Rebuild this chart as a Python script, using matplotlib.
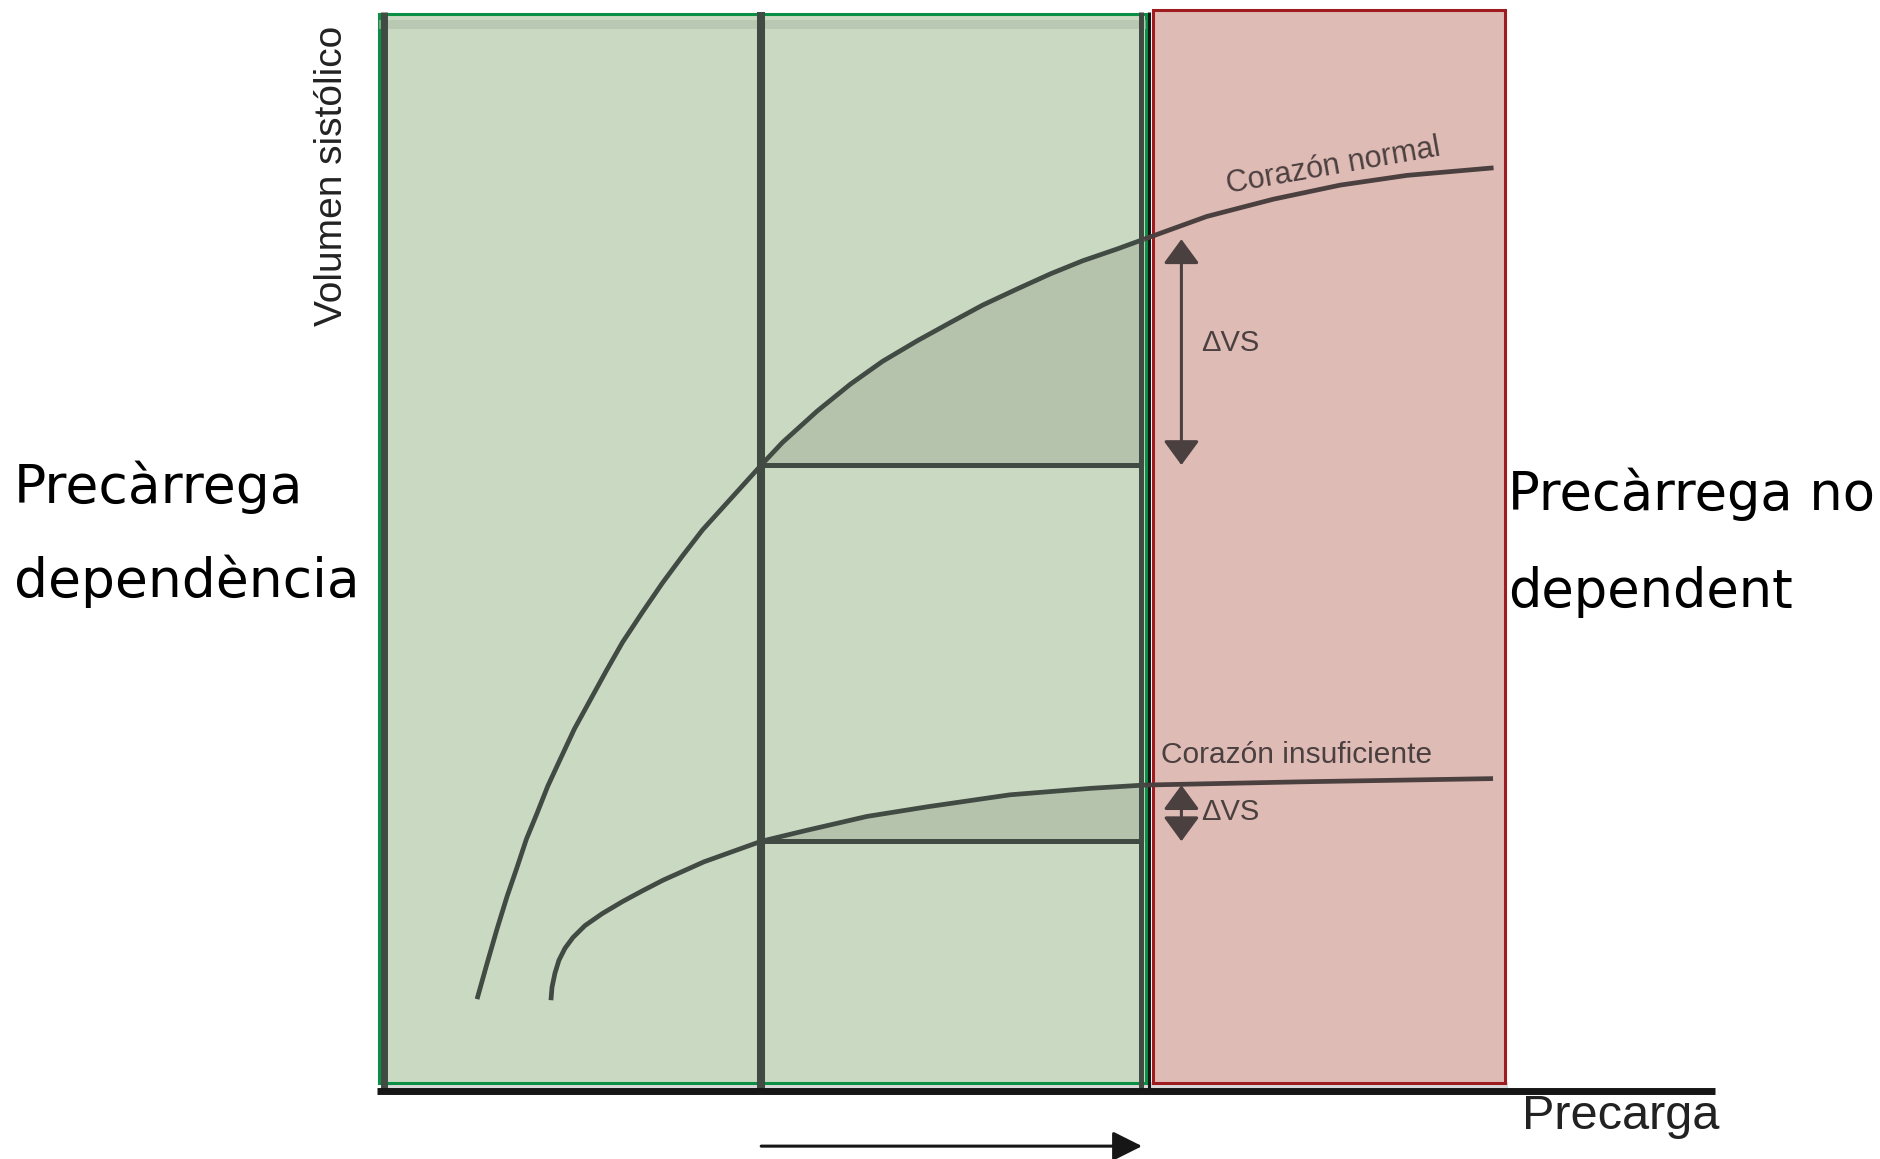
import matplotlib
matplotlib.use('Agg')
import matplotlib.pyplot as plt
from matplotlib.patches import Rectangle, FancyArrowPatch

### Data: Frank-Starling curves (precarga vs volumen sistolico)

# normal heart
precarga_normal = [7.2, 7.95, 8.7, 9.45, 10.2, 10.9, 11.7, 12.5, 13.4, 14.5,
                   15.7, 16.9, 18.1, 19.6, 21.1, 22.6, 24.1, 26.3, 28.5, 30.1,
                   32.7, 35.2, 37.6, 40.2, 42.7, 45.1, 47.7, 50.2, 52.6, 55.2,
                   57.2, 61.9, 66.9, 71.9, 76.9, 83.4]
vs_normal = [8.5, 11.8, 15.0, 18.0, 20.7, 23.3, 25.7, 28.2, 30.6, 33.5,
             36.2, 38.9, 41.5, 44.3, 47.0, 49.5, 51.9, 54.9, 57.9, 60.0,
             62.9, 65.4, 67.5, 69.4, 71.1, 72.7, 74.2, 75.6, 76.8, 77.9,
             78.8, 80.9, 82.5, 83.8, 84.7, 85.4]

# failing heart
precarga_insuf = [12.74, 12.82, 13.04, 13.34, 13.79, 14.39, 15.29, 16.57, 18.07,
                  19.57, 21.14, 24.21, 28.5, 31.86, 36.43, 41.0, 47.15, 53.22,
                  57.2, 68.89, 83.36]
vs_insuf = [8.4, 9.6, 10.9, 12.1, 13.2, 14.2, 15.3, 16.4, 17.5,
            18.5, 19.5, 21.2, 23.1, 24.1, 25.4, 26.3, 27.4, 28.0,
            28.3, 28.6, 28.9]

# the two preload levels compared
precarga_baja = 28.5
precarga_alta = 57.2

curve_labels = ['Corazón normal', 'Corazón insuficiente']
delta_label = '\u0394VS'
x_label = 'Precarga'
y_label = 'Volumen sistólico'
zone_left = ['Precàrrega', 'dependència']
zone_right = ['Precàrrega no', 'dependent']

### Colours
GREEN_FILL = '#cad9c2'
GREEN_EDGE = '#0a8f45'
SHADE = '#b5c3ad'
DARK = '#414a43'
RED_FILL = '#dfbbb5'
RED_EDGE = '#9e1b20'
BROWN = '#4b4040'
BLACK = '#161616'

W, H = 1880, 1159
fig = plt.figure(figsize=(W / 100, H / 100), dpi=100)
fig.patch.set_facecolor('white')

# axes box: origin at the corner of the two axis lines
ax = fig.add_axes([381 / W, (H - 1091) / H, (1715 - 381) / W, (1091 - 10) / H])
ax.set_xlim(0, 100)
ax.set_ylim(0, 100)
ax.axis('off')

# soft grey shadow under the zones
ax.add_patch(Rectangle((0, 0.2), 84.5, 0.6, facecolor='#d9d9d9', edgecolor='none',
                       zorder=0.5, clip_on=False))

# zones
ax.add_patch(Rectangle((57.87, 0.74), 84.26 - 57.87, 100.0 - 0.74, facecolor=RED_FILL,
                       edgecolor=RED_EDGE, lw=2.2, zorder=1, clip_on=False))
ax.add_patch(Rectangle((-0.15, 0.74), 57.5, 99.63 - 0.74, facecolor=GREEN_FILL,
                       edgecolor=GREEN_EDGE, lw=2.2, zorder=1, clip_on=False))
ax.add_patch(Rectangle((-0.15, 98.2), 57.5, 0.9, facecolor='#afbda8', edgecolor='none',
                       alpha=0.6, zorder=1.5, clip_on=False))

# index of the two preload levels in each curve
i_lo_n = precarga_normal.index(precarga_baja)
i_hi_n = precarga_normal.index(precarga_alta)
i_lo_i = precarga_insuf.index(precarga_baja)
i_hi_i = precarga_insuf.index(precarga_alta)

# shaded gain in stroke volume between the two preloads
for xs, ys, lo, hi in [(precarga_normal, vs_normal, i_lo_n, i_hi_n),
                       (precarga_insuf, vs_insuf, i_lo_i, i_hi_i)]:
    ax.fill_between(xs[lo:hi + 1], ys[lo:hi + 1], ys[lo], color=SHADE, lw=0, zorder=2)
    ax.plot([precarga_baja, 57.0], [ys[lo], ys[lo]], color=DARK, lw=3.6,
            solid_capstyle='butt', zorder=3)

# vertical guides
ax.plot([0.22, 0.22], [0, 99.8], color=DARK, lw=5, solid_capstyle='butt', zorder=5, clip_on=False)
ax.plot([precarga_baja, precarga_baja], [0, 99.8], color=DARK, lw=5.8,
        solid_capstyle='butt', zorder=3, clip_on=False)
ax.plot([57.0, 57.0], [0, 99.8], color=DARK, lw=3.6, solid_capstyle='butt', zorder=3, clip_on=False)
ax.plot([57.56, 57.56], [0, 99.8], color=BLACK, lw=2.2, solid_capstyle='butt', zorder=3, clip_on=False)

# curves: dark green over the green zone, brownish over the red one
for xs, ys, hi in [(precarga_normal, vs_normal, i_hi_n), (precarga_insuf, vs_insuf, i_hi_i)]:
    ax.plot(xs[:hi + 1], ys[:hi + 1], color=DARK, lw=3.4, solid_capstyle='butt',
            solid_joinstyle='round', zorder=4)
    ax.plot(xs[hi:], ys[hi:], color=BROWN, lw=3.4, solid_capstyle='butt',
            solid_joinstyle='round', zorder=4)

# x axis
ax.plot([-0.3, 100], [0, 0], color=BLACK, lw=5, solid_capstyle='butt', zorder=5, clip_on=False)

# delta VS arrows
for ys, hi, lo in [(vs_normal, i_hi_n, i_lo_n), (vs_insuf, i_hi_i, i_lo_i)]:
    arr = FancyArrowPatch((60.0, ys[lo]), (60.0, ys[hi]),
                          arrowstyle='<|-|>,head_length=1.5,head_width=1.1',
                          mutation_scale=10, color=BROWN, lw=2.2,
                          shrinkA=0, shrinkB=0, zorder=6, clip_on=False)
    ax.add_patch(arr)

ax.text(61.5, 69.2, delta_label, fontsize=21, color=BROWN, family='Liberation Sans',
        ha='left', va='center', zorder=6)
ax.text(61.5, 25.8, delta_label, fontsize=21, color=BROWN, family='Liberation Sans',
        ha='left', va='center', zorder=6)

# curve labels
ax.text(71.5, 84.8, curve_labels[0], fontsize=22, color=BROWN, family='Liberation Sans',
        rotation=10, rotation_mode='anchor', ha='center', va='baseline', zorder=6)
ax.text(58.5, 30.3, curve_labels[1], fontsize=21.5, color=BROWN, family='Liberation Sans',
        ha='left', va='baseline', zorder=6)

# arrow under the x axis: preload going up
ax.add_patch(FancyArrowPatch((precarga_baja, -5.1), (57.05, -5.1),
                             arrowstyle='-|>,head_length=1.8,head_width=0.9',
                             mutation_scale=10, color=BLACK, lw=2.2,
                             shrinkA=0, shrinkB=0, zorder=6, clip_on=False))

# axis titles
ax.text(100.3, -0.3, x_label, fontsize=35, color='#222222', family='Liberation Sans',
        ha='right', va='top', zorder=6)
ax.text(-3.67, 84.7, y_label, fontsize=28, color='#222222', family='Liberation Sans',
        rotation=90, ha='center', va='center', zorder=6)

# zone labels, one text per line
for line, base in zip(zone_left, [503, 597]):
    fig.text(14 / W, 1 - base / H, line, fontsize=38.5, family='DejaVu Sans',
             ha='left', va='baseline')
for line, base in zip(zone_right, [510, 607]):
    fig.text(1508 / W, 1 - base / H, line, fontsize=38, family='DejaVu Sans',
             ha='left', va='baseline')

fig.savefig('out.png', dpi=100)
